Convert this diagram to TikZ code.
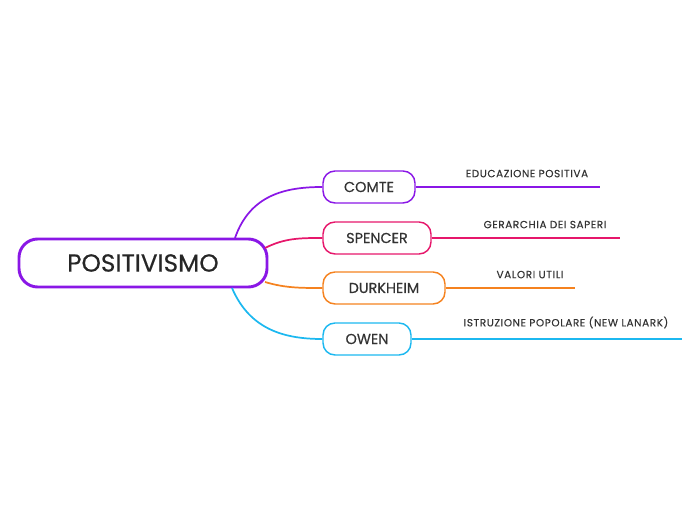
\documentclass[tikz,border=0pt]{standalone}
\usepackage{fontspec}
\setmainfont{Poppins}[FakeBold=0.4]
\newfontfamily\lblfont{Poppins}[FakeBold=0.3,LetterSpace=6]
\begin{document}
\begin{tikzpicture}[x=0.75pt,y=-0.75pt,
  topic/.style={draw, line width=1.1pt, rounded corners=9pt, minimum height=24pt, inner xsep=0pt, font=\fontsize{10.8}{12}\selectfont, text=black!80},
  lbl/.style={font=\lblfont\fontsize{7.8}{9}\selectfont, text=black!80, anchor=south}]
\definecolor{cpur}{HTML}{8A17E6}
\definecolor{cpink}{HTML}{E6176B}
\definecolor{corg}{HTML}{F5821F}
\definecolor{ccyan}{HTML}{1CB8F0}
\useasboundingbox (0,0) rectangle (697,520);
\node[draw=cpur, line width=2.2pt, rounded corners=14pt, minimum width=186pt, minimum height=36pt, font=\fontsize{18.5}{22}\selectfont, text=black!85] (root) at (143,263) {POSITIVISMO};
\node[topic, draw=cpur, minimum width=69pt] (comte) at (369,187) {COMTE};
\node[topic, draw=cpink, minimum width=81pt] (spencer) at (377,238) {SPENCER};
\node[topic, draw=corg, minimum width=91.5pt] (durk) at (384,288) {DURKHEIM};
\node[topic, draw=ccyan, minimum width=66pt] (owen) at (367,339) {OWEN};
\coordinate (c1) at (600,187); \coordinate (c2) at (620,238);
\coordinate (c3) at (575,288); \coordinate (c4) at (682,339);
\draw[cpur, line width=1.3pt] (235,238) .. controls (250,195) and (285,187) .. (comte.west);
\draw[cpink, line width=1.3pt] (265,248) .. controls (285,238) and (300,238) .. (spencer.west);
\draw[corg, line width=1.3pt] (265,282) .. controls (285,288) and (300,288) .. (durk.west);
\draw[ccyan, line width=1.3pt] (232,288) .. controls (250,330) and (285,339) .. (owen.west);
\draw[cpur, line width=0.8pt] (comte.east) -- (c1);
\draw[cpink, line width=0.8pt] (spencer.east) -- (c2);
\draw[corg, line width=0.8pt] (durk.east) -- (c3);
\draw[ccyan, line width=0.8pt] (owen.east) -- (c4);
\node[lbl] (l1) at (527,182) {EDUCAZIONE POSITIVA};
\node[lbl] (l2) at (545,233) {GERARCHIA DEI SAPERI};
\node[lbl] (l3) at (530,283) {VALORI UTILI};
\node[lbl] (l4) at (566,333) {ISTRUZIONE POPOLARE (NEW LANARK)};
\end{tikzpicture}
\end{document}
